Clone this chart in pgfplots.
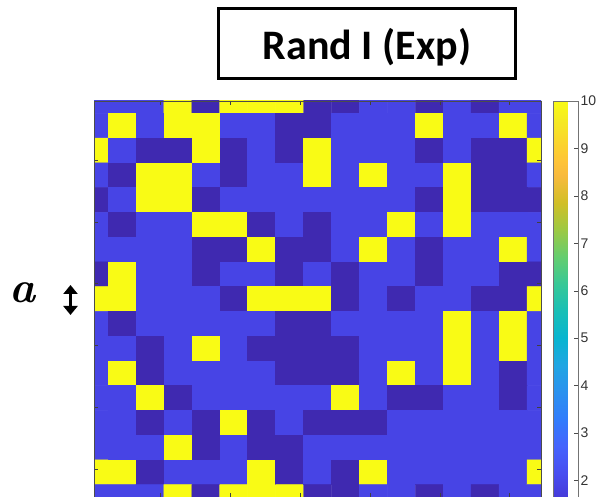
\documentclass[border=0pt]{standalone}
\usepackage{fontspec}
\setmainfont{Liberation Sans}
\newfontfamily\titlefont{Carlito}
\newfontface\lmbi{lmroman10-bolditalic.otf}
\usepackage{pgfplots}
\pgfplotsset{compat=1.18}
\usetikzlibrary{arrows.meta}
\begin{document}
\begin{tikzpicture}
\useasboundingbox (0pt,0pt) rectangle (597pt,497pt);
\clip (0pt,0pt) rectangle (597pt,497pt);
\begin{axis}[
  at={(94pt,396pt)}, anchor=north west,
  scale only axis, width=447pt, height=396pt,
  xmin=1, xmax=17, ymin=1, ymax=17, y dir=reverse,
  enlargelimits=false, axis on top,
  xtick={3.38,5.88,8.38,10.88,13.38,15.88},
  ytick={3.38,5.88,8.38,10.88,13.38,15.88},
  xticklabels={}, yticklabels={},
  tick align=inside, major tick length=4pt,
  tick style={black!75, line width=0.5pt},
  axis line style={black!70, line width=0.5pt},
  colormap={parula}{rgb255(0pt)=(62,38,168) rgb255(2pt)=(66,46,192) rgb255(4pt)=(69,55,213) rgb255(8pt)=(72,77,240) rgb255(12pt)=(69,99,253) rgb255(16pt)=(50,124,252) rgb255(20pt)=(43,145,239) rgb255(24pt)=(32,165,227) rgb255(28pt)=(8,181,208) rgb255(32pt)=(25,191,182) rgb255(36pt)=(55,200,151) rgb255(40pt)=(100,205,111) rgb255(44pt)=(157,201,67) rgb255(48pt)=(209,191,39) rgb255(52pt)=(248,186,61) rgb255(54pt)=(254,195,56) rgb255(56pt)=(252,207,48) rgb255(60pt)=(245,233,36) rgb255(63pt)=(249,251,21)},
  point meta min=1, point meta max=10,
  colorbar,
  colorbar style={
    at={(parent axis.north east)}, anchor=north west, xshift=4pt,
    scale only axis, width=24.5pt, height=427pt,
    ytick={2,3,4,5,6,7,8,9,10},
    ytick pos=right, yticklabel pos=right,
    tick align=inside, major tick length=4pt,
    tick style={black!70, line width=0.5pt},
    axis line style={black!55, line width=0.5pt},
    yticklabel style={font=\fontsize{14}{14}\selectfont, text=black!80, xshift=-1pt, /pgf/number format/assume math mode=true},
  },
]
\addplot[matrix plot*, mesh/cols=17, point meta=explicit] coordinates {
(1,1)[1.9] (2,1)[1.9] (3,1)[1.9] (4,1)[10] (5,1)[1.1] (6,1)[10] (7,1)[10] (8,1)[10] (9,1)[1.1] (10,1)[1.1] (11,1)[1.9] (12,1)[1.9] (13,1)[1.1] (14,1)[1.9] (15,1)[1.1] (16,1)[1.9] (17,1)[1.9]
(1,2)[1.9] (2,2)[10] (3,2)[1.9] (4,2)[10] (5,2)[10] (6,2)[1.9] (7,2)[1.9] (8,2)[1.1] (9,2)[1.1] (10,2)[1.9] (11,2)[1.9] (12,2)[1.9] (13,2)[10] (14,2)[1.9] (15,2)[1.9] (16,2)[10] (17,2)[1.9]
(1,3)[10] (2,3)[1.9] (3,3)[1.1] (4,3)[1.1] (5,3)[10] (6,3)[1.1] (7,3)[1.9] (8,3)[1.1] (9,3)[10] (10,3)[1.9] (11,3)[1.9] (12,3)[1.9] (13,3)[1.1] (14,3)[1.9] (15,3)[1.1] (16,3)[1.1] (17,3)[10]
(1,4)[1.9] (2,4)[1.1] (3,4)[10] (4,4)[10] (5,4)[1.9] (6,4)[1.1] (7,4)[1.9] (8,4)[1.9] (9,4)[10] (10,4)[1.9] (11,4)[10] (12,4)[1.9] (13,4)[1.9] (14,4)[10] (15,4)[1.1] (16,4)[1.1] (17,4)[1.9]
(1,5)[1.1] (2,5)[1.9] (3,5)[10] (4,5)[10] (5,5)[1.1] (6,5)[1.9] (7,5)[1.9] (8,5)[1.9] (9,5)[1.9] (10,5)[1.9] (11,5)[1.9] (12,5)[1.9] (13,5)[1.1] (14,5)[10] (15,5)[1.1] (16,5)[1.1] (17,5)[1.1]
(1,6)[1.9] (2,6)[1.1] (3,6)[1.9] (4,6)[1.9] (5,6)[10] (6,6)[10] (7,6)[1.1] (8,6)[1.9] (9,6)[1.1] (10,6)[1.9] (11,6)[1.9] (12,6)[10] (13,6)[1.9] (14,6)[10] (15,6)[1.9] (16,6)[1.9] (17,6)[1.9]
(1,7)[1.9] (2,7)[1.9] (3,7)[1.9] (4,7)[1.9] (5,7)[1.1] (6,7)[1.1] (7,7)[10] (8,7)[1.1] (9,7)[1.1] (10,7)[1.9] (11,7)[10] (12,7)[1.9] (13,7)[1.1] (14,7)[1.9] (15,7)[1.9] (16,7)[10] (17,7)[1.9]
(1,8)[1.1] (2,8)[10] (3,8)[1.9] (4,8)[1.9] (5,8)[1.1] (6,8)[1.9] (7,8)[1.9] (8,8)[1.1] (9,8)[1.9] (10,8)[1.1] (11,8)[1.9] (12,8)[1.9] (13,8)[1.1] (14,8)[1.9] (15,8)[1.9] (16,8)[1.1] (17,8)[1.1]
(1,9)[10] (2,9)[10] (3,9)[1.9] (4,9)[1.9] (5,9)[1.9] (6,9)[1.1] (7,9)[10] (8,9)[10] (9,9)[10] (10,9)[1.1] (11,9)[1.9] (12,9)[1.1] (13,9)[1.9] (14,9)[1.9] (15,9)[1.1] (16,9)[1.1] (17,9)[10]
(1,10)[1.9] (2,10)[1.1] (3,10)[1.9] (4,10)[1.9] (5,10)[1.9] (6,10)[1.9] (7,10)[1.9] (8,10)[1.1] (9,10)[1.1] (10,10)[1.9] (11,10)[1.9] (12,10)[1.9] (13,10)[1.9] (14,10)[10] (15,10)[1.9] (16,10)[10] (17,10)[1.9]
(1,11)[1.9] (2,11)[1.9] (3,11)[1.1] (4,11)[1.9] (5,11)[10] (6,11)[1.9] (7,11)[1.1] (8,11)[1.1] (9,11)[1.1] (10,11)[1.1] (11,11)[1.9] (12,11)[1.9] (13,11)[1.9] (14,11)[10] (15,11)[1.9] (16,11)[10] (17,11)[1.9]
(1,12)[1.9] (2,12)[10] (3,12)[1.1] (4,12)[1.9] (5,12)[1.9] (6,12)[1.9] (7,12)[1.9] (8,12)[1.1] (9,12)[1.1] (10,12)[1.1] (11,12)[1.9] (12,12)[10] (13,12)[1.9] (14,12)[10] (15,12)[1.9] (16,12)[1.1] (17,12)[1.9]
(1,13)[1.9] (2,13)[1.9] (3,13)[10] (4,13)[1.1] (5,13)[1.9] (6,13)[1.9] (7,13)[1.9] (8,13)[1.9] (9,13)[1.9] (10,13)[10] (11,13)[1.9] (12,13)[1.1] (13,13)[1.1] (14,13)[1.9] (15,13)[1.9] (16,13)[1.1] (17,13)[1.9]
(1,14)[1.9] (2,14)[1.9] (3,14)[1.1] (4,14)[1.9] (5,14)[1.1] (6,14)[10] (7,14)[1.1] (8,14)[1.9] (9,14)[1.1] (10,14)[1.1] (11,14)[1.1] (12,14)[1.9] (13,14)[1.9] (14,14)[1.9] (15,14)[1.9] (16,14)[1.9] (17,14)[1.9]
(1,15)[1.9] (2,15)[1.9] (3,15)[1.9] (4,15)[10] (5,15)[1.1] (6,15)[1.9] (7,15)[1.1] (8,15)[1.1] (9,15)[1.9] (10,15)[1.9] (11,15)[1.9] (12,15)[1.9] (13,15)[1.9] (14,15)[1.9] (15,15)[1.9] (16,15)[1.9] (17,15)[1.9]
(1,16)[10] (2,16)[10] (3,16)[1.1] (4,16)[1.9] (5,16)[1.9] (6,16)[1.9] (7,16)[10] (8,16)[1.1] (9,16)[1.9] (10,16)[1.1] (11,16)[10] (12,16)[1.9] (13,16)[1.9] (14,16)[1.9] (15,16)[1.9] (16,16)[1.9] (17,16)[10]
(1,17)[1.9] (2,17)[1.9] (3,17)[1.9] (4,17)[10] (5,17)[1.1] (6,17)[10] (7,17)[10] (8,17)[10] (9,17)[1.1] (10,17)[1.1] (11,17)[1.9] (12,17)[1.9] (13,17)[1.1] (14,17)[1.9] (15,17)[1.1] (16,17)[1.9] (17,17)[1.9]
};
\end{axis}
\draw[line width=3pt] (218.5pt,488.5pt) rectangle (515pt,418pt);
\node[anchor=base, inner sep=0pt, font=\titlefont\bfseries\fontsize{42}{42}\selectfont] at (367pt,437.7pt) {Rand I (Exp)};
\node[anchor=base, inner sep=0pt] at (22.5pt,194pt) {\lmbi\fontsize{44}{44}\selectfont a};
\draw[line width=2.6pt, {Triangle[width=14pt,length=9pt]}-{Triangle[width=14pt,length=9pt]}] (70.5pt,212pt) -- (70.5pt,182pt);
\end{tikzpicture}
\end{document}
